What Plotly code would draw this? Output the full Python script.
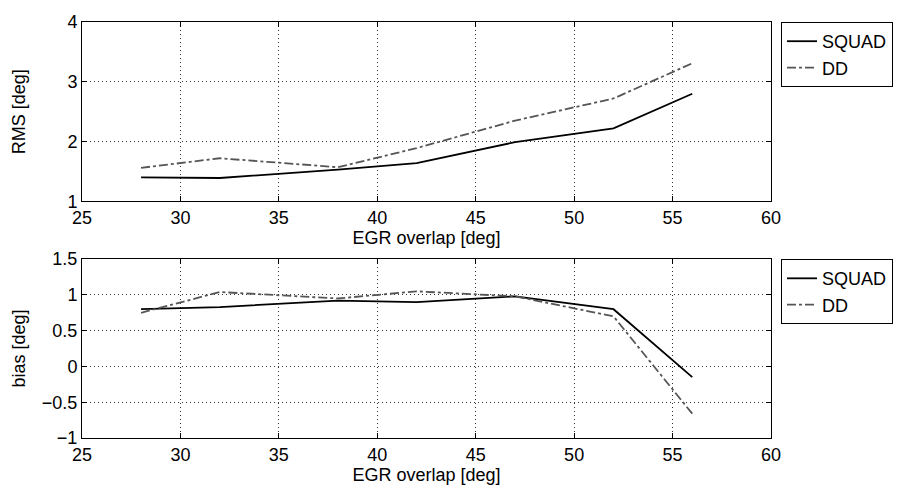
import plotly.graph_objects as go
from plotly.subplots import make_subplots

x_vals = [28, 32, 38, 42, 47, 52, 56]
rms_squad = [1.40, 1.39, 1.53, 1.64, 1.99, 2.22, 2.80]
rms_dd = [1.56, 1.72, 1.57, 1.89, 2.35, 2.72, 3.31]
bias_squad = [0.80, 0.83, 0.92, 0.90, 0.98, 0.80, -0.15]
bias_dd = [0.75, 1.04, 0.95, 1.05, 0.98, 0.70, -0.66]

x_ticks = [25, 30, 35, 40, 45, 50, 55, 60]
rms_ticks = [1, 2, 3, 4]
bias_ticks = [-1, -0.5, 0, 0.5, 1, 1.5]

FONT = "Liberation Sans, Arial, sans-serif"
FS = 18

fig = make_subplots(rows=2, cols=1)

fig.add_trace(go.Scatter(x=x_vals, y=rms_squad, mode="lines", name="SQUAD",
                         line=dict(color="black", width=1.8), legend="legend"), row=1, col=1)
fig.add_trace(go.Scatter(x=x_vals, y=rms_dd, mode="lines", name="DD",
                         line=dict(color="#555555", width=1.8, dash="dashdot"), legend="legend"), row=1, col=1)
fig.add_trace(go.Scatter(x=x_vals, y=bias_squad, mode="lines", name="SQUAD",
                         line=dict(color="black", width=1.8), legend="legend2"), row=2, col=1)
fig.add_trace(go.Scatter(x=x_vals, y=bias_dd, mode="lines", name="DD",
                         line=dict(color="#555555", width=1.8, dash="dashdot"), legend="legend2"), row=2, col=1)

axis_common = dict(showline=True, linecolor="black", linewidth=1, mirror="ticks",
                   ticks="inside", ticklen=5, tickcolor="black",
                   showgrid=True, gridcolor="#333333", griddash="1px,3px", gridwidth=1,
                   zeroline=False, tickfont=dict(family=FONT, size=FS, color="black"))

fig.update_xaxes(**axis_common, range=[25, 60], tickvals=x_ticks,
                 title=dict(text="EGR overlap [deg]", font=dict(family=FONT, size=FS, color="black"), standoff=0))
fig.update_yaxes(**axis_common)
fig.update_yaxes(range=[1, 4], tickvals=rms_ticks, domain=[0.569, 1.0],
                 title=dict(text="RMS [deg]", font=dict(family=FONT, size=FS, color="black"), standoff=37),
                 row=1, col=1)
fig.update_yaxes(range=[-1, 1.5], tickvals=bias_ticks, domain=[0.0, 0.43],
                 title=dict(text="bias [deg]", font=dict(family=FONT, size=FS, color="black"), standoff=11),
                 row=2, col=1)

legend_common = dict(bordercolor="black", borderwidth=1, bgcolor="white",
                     font=dict(family=FONT, size=18, color="black"),
                     xanchor="left", yanchor="top", tracegroupgap=0, itemwidth=30)
fig.update_layout(
    width=911, height=489,
    margin=dict(l=82, r=140, t=21, b=50),
    plot_bgcolor="white", paper_bgcolor="white",
    legend=dict(**legend_common, x=1.0145, y=1.0),
    legend2=dict(**legend_common, x=1.0145, y=0.43),
)

fig.write_html("out.html")
